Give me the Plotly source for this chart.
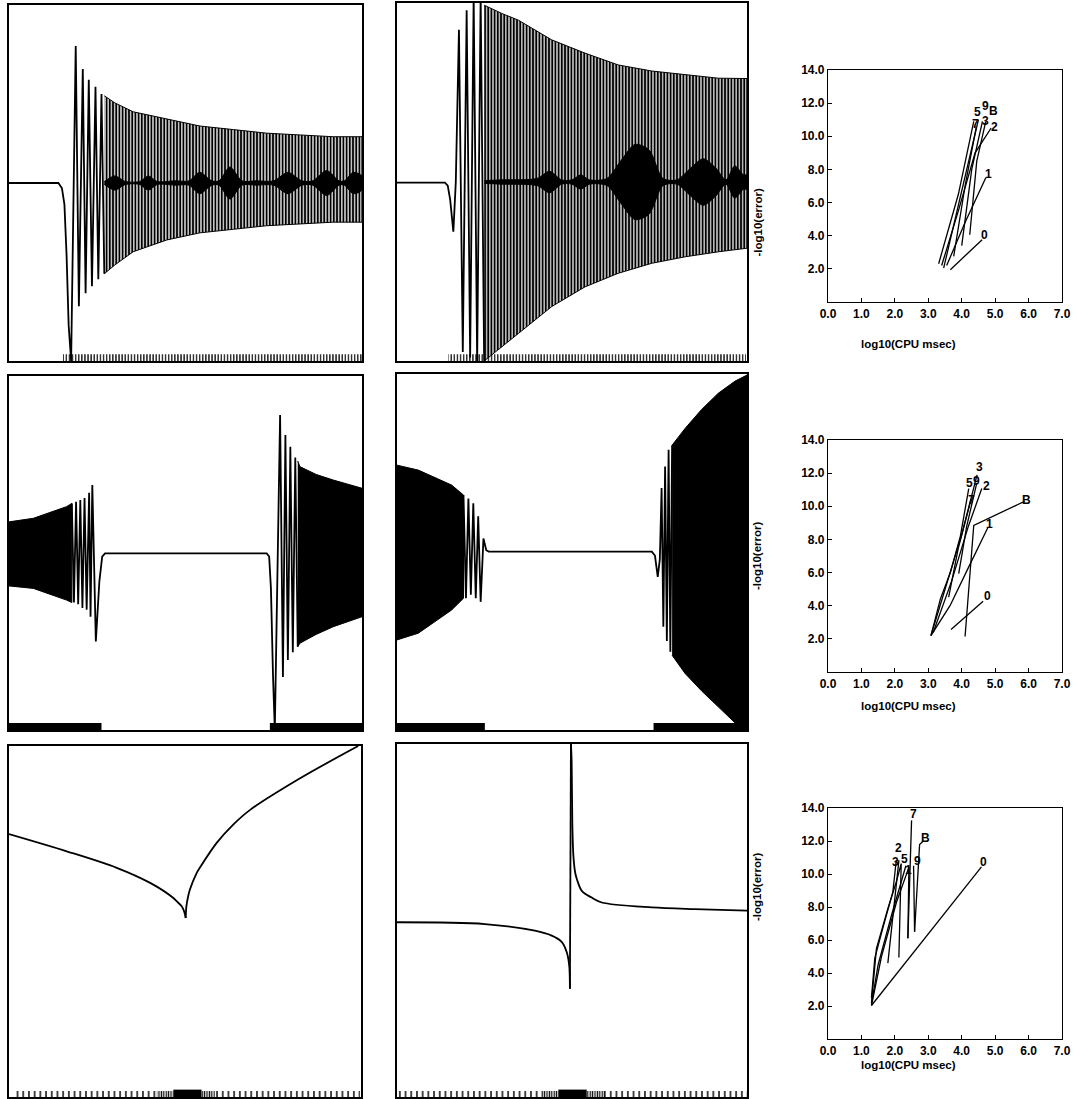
import plotly.graph_objects as go

W, H = 1079, 1099

# ===================== DATA (normalised panel units 0..1) =====================
# ---- Panel A (row 1, left)
A_curve_x = [0.0, 0.140, 0.150, 0.157, 0.163, 0.169, 0.176, 0.189, 0.198, 0.209, 0.217, 0.226, 0.235, 0.245, 0.253, 0.262, 0.270]
A_curve_y = [0.50, 0.50, 0.485, 0.44, 0.30, 0.10, 0.0, 0.885, 0.154, 0.82, 0.19, 0.79, 0.21, 0.77, 0.23, 0.75, 0.245]
A_env_x = [0.270, 0.300, 0.352, 0.447, 0.541, 0.636, 0.730, 0.824, 0.919, 1.0]
A_env_hi = [0.745, 0.725, 0.700, 0.680, 0.660, 0.650, 0.640, 0.635, 0.630, 0.630]
A_env_lo = [0.245, 0.270, 0.307, 0.340, 0.360, 0.370, 0.380, 0.385, 0.390, 0.390]
A_core_x = [0.27, 0.30, 0.33, 0.37, 0.395, 0.42, 0.47, 0.51, 0.54, 0.575, 0.595, 0.626, 0.66, 0.70, 0.75, 0.79, 0.83, 0.86, 0.90, 0.935, 0.95, 0.975, 1.0]
A_core_half = [0.004, 0.02, 0.004, 0.004, 0.02, 0.004, 0.006, 0.006, 0.03, 0.006, 0.006, 0.045, 0.006, 0.006, 0.006, 0.03, 0.006, 0.006, 0.035, 0.006, 0.006, 0.03, 0.02]
A_core_mid = 0.50
A_step_start = [0.153]
A_step_end = [1.0]
A_step_kind = ['fine']

# ---- Panel B (row 1, middle)
B_curve_x = [0.0, 0.137, 0.145, 0.152, 0.161, 0.168, 0.177, 0.188, 0.199, 0.209, 0.219, 0.229, 0.239, 0.249]
B_curve_y = [0.498, 0.498, 0.49, 0.45, 0.361, 0.50, 0.925, 0.025, 0.98, 0.01, 1.02, 0.0, 1.02, 0.0]
B_env_x = [0.249, 0.299, 0.347, 0.442, 0.537, 0.632, 0.728, 0.823, 0.918, 1.0]
B_env_hi = [0.994, 0.971, 0.952, 0.897, 0.860, 0.827, 0.810, 0.800, 0.790, 0.789]
B_env_lo = [0.0, 0.040, 0.077, 0.152, 0.207, 0.245, 0.273, 0.291, 0.305, 0.315]
B_core_x = [0.25, 0.30, 0.40, 0.436, 0.47, 0.50, 0.525, 0.55, 0.60, 0.64, 0.68, 0.72, 0.76, 0.80, 0.84, 0.875, 0.91, 0.94, 0.965, 0.99, 1.0]
B_core_half = [0.004, 0.006, 0.01, 0.03, 0.006, 0.006, 0.02, 0.006, 0.01, 0.06, 0.105, 0.09, 0.01, 0.006, 0.04, 0.065, 0.04, 0.006, 0.045, 0.02, 0.02]
B_core_mid = 0.50
B_step_start = [0.147]
B_step_end = [0.997]
B_step_kind = ['fine']

# ---- Panel C (row 2, left)
C_left_x = [0.0, 0.069, 0.163, 0.178]
C_left_hi = [0.588, 0.598, 0.631, 0.640]
C_left_lo = [0.407, 0.400, 0.367, 0.360]
C_curve_x = [0.178, 0.184, 0.190, 0.196, 0.202, 0.208, 0.214, 0.220, 0.227, 0.231, 0.236, 0.246, 0.256, 0.264, 0.272,
             0.730, 0.737, 0.742, 0.748, 0.753, 0.768, 0.776, 0.783, 0.790, 0.797, 0.804, 0.811, 0.818]
C_curve_y = [0.640, 0.360, 0.645, 0.355, 0.650, 0.345, 0.655, 0.340, 0.670, 0.320, 0.692, 0.250, 0.420, 0.490, 0.499,
             0.499, 0.490, 0.400, 0.150, 0.0, 0.890, 0.150, 0.833, 0.198, 0.800, 0.220, 0.770, 0.235]
C_right_x = [0.818, 0.824, 0.870, 0.919, 1.0]
C_right_hi = [0.760, 0.744, 0.722, 0.706, 0.683]
C_right_lo = [0.235, 0.245, 0.270, 0.292, 0.320]
C_step_start = [0.0, 0.739]
C_step_end = [0.262, 1.0]
C_step_kind = ['solid', 'solid']

# ---- Panel D (row 2, middle)
D_left_x = [0.0, 0.061, 0.156, 0.190]
D_left_hi = [0.744, 0.730, 0.688, 0.660]
D_left_lo = [0.253, 0.272, 0.337, 0.370]
D_curve_x = [0.190, 0.197, 0.204, 0.211, 0.218, 0.225, 0.232, 0.239, 0.247, 0.255, 0.262,
             0.728, 0.737, 0.745, 0.751, 0.756, 0.761, 0.766, 0.771, 0.776, 0.781, 0.786]
D_curve_y = [0.660, 0.370, 0.650, 0.380, 0.637, 0.370, 0.600, 0.360, 0.538, 0.505, 0.501,
             0.501, 0.490, 0.430, 0.480, 0.680, 0.290, 0.740, 0.250, 0.787, 0.220, 0.800]
D_right_x = [0.786, 0.823, 0.870, 0.918, 0.966, 1.0]
D_right_hi = [0.800, 0.847, 0.900, 0.946, 0.980, 0.997]
D_right_lo = [0.210, 0.159, 0.110, 0.065, 0.020, 0.005]
D_step_start = [0.0, 0.733]
D_step_end = [0.251, 1.0]
D_step_kind = ['solid', 'solid']

# ---- Panel E (row 3, left): two branches meeting in a cusp
E_left_x = [0.0, 0.164, 0.306, 0.401, 0.467, 0.476, 0.490, 0.495, 0.500, 0.502]
E_left_y = [0.749, 0.700, 0.653, 0.610, 0.567, 0.558, 0.544, 0.535, 0.520, 0.510]
E_right_x = [0.502, 0.504, 0.509, 0.514, 0.533, 0.542, 0.590, 0.637, 0.685, 0.827, 0.992]
E_right_y = [0.510, 0.544, 0.572, 0.591, 0.638, 0.653, 0.724, 0.776, 0.818, 0.908, 1.0]
E_step_start = [0.015, 0.420, 0.467, 0.547, 0.585]
E_step_end = [0.420, 0.467, 0.547, 0.585, 0.997]
E_step_kind = ['sparse', 'dense', 'solid', 'dense', 'sparse']

# ---- Panel F (row 3, middle): left branch, jump, right branch
F_left_x = [0.0, 0.251, 0.394, 0.442, 0.471, 0.485, 0.492, 0.494]
F_left_y = [0.495, 0.490, 0.471, 0.457, 0.439, 0.410, 0.373, 0.307]
F_jump_x = [0.494, 0.497]
F_jump_y = [0.307, 1.0]
F_right_x = [0.497, 0.499, 0.501, 0.504, 0.509, 0.514, 0.528, 0.556, 0.585, 0.728, 0.850, 1.0]
F_right_y = [1.0, 0.95, 0.772, 0.683, 0.636, 0.617, 0.584, 0.565, 0.551, 0.537, 0.532, 0.528]
F_step_start = [0.0, 0.413, 0.461, 0.542, 0.595]
F_step_end = [0.413, 0.461, 0.542, 0.595, 0.999]
F_step_kind = ['sparse', 'dense', 'solid', 'dense', 'sparse']

# ===================== DATA: work-precision diagrams =====================
R1_labels = ['0', '1', '2', '3', '5', '7', '9', 'B']
R1_xs = [[3.66, 4.61], [3.55, 4.10, 4.72], [3.40, 3.90, 4.40, 4.88], [4.24, 4.45, 4.72],
         [3.31, 3.90, 4.36], [3.76, 4.10, 4.44], [3.46, 4.00, 4.50], [4.00, 4.30, 4.62]]
R1_ys = [[1.95, 3.76], [2.20, 4.80, 7.50], [2.20, 5.50, 9.00, 10.50], [4.06, 8.50, 10.90],
         [2.31, 6.50, 10.90], [2.75, 7.00, 10.60], [2.05, 6.70, 11.00], [3.40, 8.00, 10.90]]
R1_lab_x = [4.68, 4.80, 4.97, 4.70, 4.48, 4.40, 4.70, 4.94]
R1_lab_y = [4.05, 7.75, 10.55, 10.95, 11.45, 10.75, 11.85, 11.50]

R2_labels = ['0', '1', '2', '3', '5', '7', '9', 'B']
R2_xs = [[3.68, 4.64], [3.08, 3.65, 4.20, 4.78], [3.15, 3.70, 4.20, 4.60], [3.08, 3.50, 4.00, 4.46],
         [3.08, 3.36, 3.66, 3.96, 4.21], [3.61, 3.90, 4.28], [3.91, 4.15, 4.45], [4.10, 4.36, 5.88]]
R2_ys = [[2.56, 4.27], [2.20, 4.00, 6.30, 8.70], [2.40, 5.50, 8.80, 11.07], [2.20, 5.00, 8.30, 11.90],
         [2.20, 4.40, 6.00, 8.20, 11.07], [4.52, 7.50, 10.40], [5.93, 8.80, 11.40], [2.14, 8.85, 10.30]]
R2_lab_x = [4.76, 4.84, 4.74, 4.54, 4.22, 4.28, 4.45, 5.94]
R2_lab_y = [4.60, 8.95, 11.25, 12.40, 11.40, 10.40, 11.55, 10.40]

R3_labels = ['0', '1', '2', '3', '5', '7', '9', 'B']
R3_xs = [[1.30, 4.59], [1.30, 1.60, 2.05, 2.42, 2.39], [1.30, 1.40, 1.65, 1.94, 2.04, 2.12, 1.79],
         [1.30, 1.45, 1.79, 2.04, 2.19, 2.12], [1.30, 1.50, 1.90, 2.20, 2.33], [2.39, 2.45, 2.50],
         [2.59, 2.56], [2.59, 2.74, 2.85]]
R3_ys = [[2.03, 10.43], [2.03, 5.00, 8.30, 10.40, 6.10], [2.50, 4.90, 6.80, 8.90, 10.80, 10.80, 4.60],
         [2.20, 5.50, 7.90, 9.50, 10.63, 4.94], [2.10, 4.50, 7.50, 9.50, 10.50], [6.10, 10.40, 13.25],
         [6.50, 10.50], [6.50, 11.78, 12.00]]
R3_lab_x = [4.66, 2.42, 2.12, 2.02, 2.30, 2.56, 2.69, 2.91]
R3_lab_y = [10.70, 10.25, 11.55, 10.75, 10.90, 13.65, 10.80, 12.20]

x_tick_vals = [0, 1, 2, 3, 4, 5, 6, 7]
x_tick_text = ['0.0', '1.0', '2.0', '3.0', '4.0', '5.0', '6.0', '7.0']
y_tick_vals = [2, 4, 6, 8, 10, 12, 14]
y_tick_text = ['2.0', '4.0', '6.0', '8.0', '10.0', '12.0', '14.0']
x_title = 'log10(CPU msec)'
y_title = '-log10(error)'

# ===================== LAYOUT / STYLE =====================
boxes = [(9, 5, 362, 361), (397, 3, 747, 361), (9, 376, 362, 730), (397, 374, 747, 730),
         (9, 746, 361, 1097), (397, 744, 747, 1097),
         (828, 70, 1062, 302), (828, 440, 1062, 672), (828, 808, 1062, 1039)]
tick_h = {1: 0.019, 2: 0.019, 3: 0.02, 4: 0.02, 5: 0.017, 6: 0.017}
solid_h = {1: 0.019, 2: 0.019, 3: 0.02, 4: 0.02, 5: 0.021, 6: 0.021}
step_style = {'fine': dict(size=3.1, solidity=0.4), 'sparse': dict(size=5.7, solidity=0.25),
              'dense': dict(size=2.4, solidity=0.5)}
FONT = 'Liberation Sans'

fig = go.Figure()


def ax(i):
    return ('x' if i == 1 else f'x{i}'), ('y' if i == 1 else f'y{i}')


def add_line(i, x, y, w=1.8, shape='linear'):
    xa, ya = ax(i)
    line = dict(color='black', width=w, shape=shape)
    if shape == 'spline':
        line['smoothing'] = 0.9
    fig.add_trace(go.Scatter(x=x, y=y, mode='lines', xaxis=xa, yaxis=ya, line=line, hoverinfo='skip'))


def add_env(i, x, hi, lo, hatch=None):
    xa, ya = ax(i)
    px = list(x) + list(x)[::-1]
    py = list(hi) + list(lo)[::-1]
    if hatch:
        fig.add_trace(go.Scatter(x=px, y=py, mode='lines', fill='toself', xaxis=xa, yaxis=ya,
                                 fillcolor='rgba(0,0,0,0)',
                                 fillpattern=dict(shape='|', size=hatch[0], solidity=hatch[1],
                                                  fgcolor='black', bgcolor='white', fillmode='replace'),
                                 line=dict(color='black', width=1), hoverinfo='skip'))
    else:
        fig.add_trace(go.Scatter(x=px, y=py, mode='lines', fill='toself', xaxis=xa, yaxis=ya,
                                 fillcolor='black', line=dict(color='black', width=1), hoverinfo='skip'))


def add_core(i, x, half, mid):
    xa, ya = ax(i)
    px = list(x) + list(x)[::-1]
    py = [mid + h for h in half] + [mid - h for h in half[::-1]]
    fig.add_trace(go.Scatter(x=px, y=py, mode='lines', fill='toself', xaxis=xa, yaxis=ya,
                             fillcolor='black', line=dict(color='black', width=1, shape='spline', smoothing=0.8),
                             hoverinfo='skip'))


def add_steps(i, starts, ends, kinds):
    xa, ya = ax(i)
    for s, e, k in zip(starts, ends, kinds):
        if k == 'solid':
            marker = dict(color='black', line=dict(width=0))
            h = solid_h[i]
        else:
            st = step_style[k]
            marker = dict(color='black', line=dict(width=0),
                          pattern=dict(shape='|', size=st['size'], solidity=st['solidity'],
                                       fgcolor='black', fillmode='replace'))
            h = tick_h[i]
        fig.add_trace(go.Bar(x=[(s + e) / 2], y=[h], width=[e - s], base=0, xaxis=xa, yaxis=ya,
                             marker=marker, hoverinfo='skip'))


# Panel A
add_steps(1, A_step_start, A_step_end, A_step_kind)
add_env(1, A_env_x, A_env_hi, A_env_lo, hatch=(3.2, 0.62))
add_core(1, A_core_x, A_core_half, A_core_mid)
add_line(1, A_curve_x, A_curve_y)
# Panel B
add_steps(2, B_step_start, B_step_end, B_step_kind)
add_env(2, B_env_x, B_env_hi, B_env_lo, hatch=(3.2, 0.64))
add_core(2, B_core_x, B_core_half, B_core_mid)
add_line(2, B_curve_x, B_curve_y)
# Panel C
add_steps(3, C_step_start, C_step_end, C_step_kind)
add_env(3, C_left_x, C_left_hi, C_left_lo)
add_env(3, C_right_x, C_right_hi, C_right_lo)
add_line(3, C_curve_x, C_curve_y)
# Panel D
add_steps(4, D_step_start, D_step_end, D_step_kind)
add_env(4, D_left_x, D_left_hi, D_left_lo)
add_env(4, D_right_x, D_right_hi, D_right_lo)
add_line(4, D_curve_x, D_curve_y)
# Panel E, F
add_steps(5, E_step_start, E_step_end, E_step_kind)
add_line(5, E_left_x, E_left_y, shape='spline')
add_line(5, E_right_x, E_right_y, shape='spline')
add_steps(6, F_step_start, F_step_end, F_step_kind)
add_line(6, F_left_x, F_left_y, shape='spline')
add_line(6, F_jump_x, F_jump_y)
add_line(6, F_right_x, F_right_y, shape='spline')

annotations = []
for i, (labels, xs, ys, lx, ly) in zip([7, 8, 9],
                                       [(R1_labels, R1_xs, R1_ys, R1_lab_x, R1_lab_y),
                                        (R2_labels, R2_xs, R2_ys, R2_lab_x, R2_lab_y),
                                        (R3_labels, R3_xs, R3_ys, R3_lab_x, R3_lab_y)]):
    xa, ya = ax(i)
    for lab, cx, cy, tx, ty in zip(labels, xs, ys, lx, ly):
        add_line(i, cx, cy, w=1.3)
        annotations.append(dict(x=tx, y=ty, xref=xa, yref=ya, text=lab, showarrow=False,
                                font=dict(family=FONT, size=12, color='black', weight='bold')))
    l, t, r, b = boxes[i - 1]
    annotations.append(dict(x=958 / W, y=1 - (b + 34) / H, xref='paper', yref='paper', text=x_title,
                            showarrow=False, font=dict(family=FONT, size=11.5, color='black', weight='bold')))
    annotations.append(dict(x=765 / W, y=1 - ((t + b) / 2) / H, xref='paper', yref='paper', text=y_title,
                            textangle=-90, showarrow=False,
                            font=dict(family=FONT, size=11.5, color='black', weight='bold')))

layout = dict(width=W, height=H, margin=dict(l=0, r=0, t=0, b=0, pad=0, autoexpand=False),
              paper_bgcolor='white', plot_bgcolor='white', showlegend=False, barmode='overlay',
              annotations=annotations)
for i, (l, t, r, b) in enumerate(boxes, start=1):
    xa, ya = ax(i)
    xk = 'xaxis' if i == 1 else f'xaxis{i}'
    yk = 'yaxis' if i == 1 else f'yaxis{i}'
    common = dict(showgrid=False, zeroline=False, showline=True, mirror=True, linecolor='black',
                  fixedrange=True, automargin=False)
    if i <= 6:
        layout[xk] = dict(domain=[l / W, r / W], anchor=ya, range=[0, 1], showticklabels=False,
                          ticks='', linewidth=1.6, **common)
        layout[yk] = dict(domain=[1 - b / H, 1 - t / H], anchor=xa, range=[0, 1], showticklabels=False,
                          ticks='', linewidth=1.6, **common)
    else:
        tf = dict(family=FONT, size=12, color='black', weight='bold')
        layout[xk] = dict(domain=[l / W, r / W], anchor=ya, range=[0, 7], tickvals=x_tick_vals,
                          ticktext=x_tick_text, ticks='inside', ticklen=4, tickcolor='black',
                          tickfont=tf, linewidth=1.2, **common)
        layout[yk] = dict(domain=[1 - b / H, 1 - t / H], anchor=xa, range=[0, 14], tickvals=y_tick_vals,
                          ticktext=y_tick_text, ticks='inside', ticklen=4, tickcolor='black',
                          tickfont=tf, linewidth=1.2, **common)

fig.update_layout(**layout)
fig.write_html('out.html', config={'displayModeBar': False},
               post_script="document.body.style.margin='0px';document.body.style.overflow='hidden';")
